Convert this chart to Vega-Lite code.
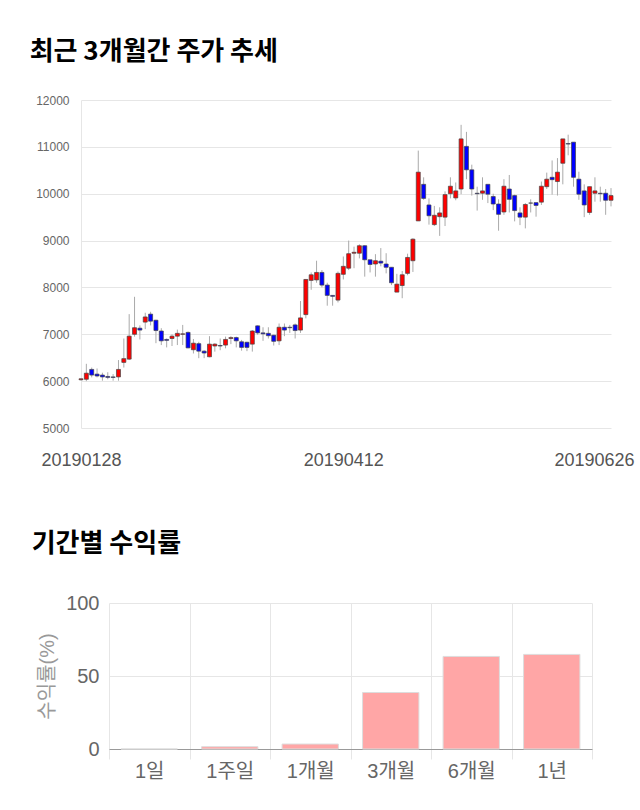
{
  "$schema": "https://vega.github.io/schema/vega-lite/v6.json",
  "background": "white",
  "padding": {"left": 29, "top": 39, "right": 0, "bottom": 0},
  "config": {"view": {"stroke": null}, "font": "Liberation Sans, Noto Sans CJK KR"},
  "spacing": 62,
  "vconcat": [
    {
      "title": {"text": "최근 3개월간 주가 추세", "anchor": "start", "frame": "bounds", "dx": -6, "offset": 29, "fontSize": 26, "font": "Noto Sans CJK KR", "fontWeight": "bold", "color": "#000000"},
      "width": 530,
      "height": 328,
      "data": {"values": [
        {"d":"20190128","o":6030,"h":6060,"l":6010,"c":6050},
        {"d":"20190129","o":6040,"h":6370,"l":6000,"c":6170},
        {"d":"20190130","o":6250,"h":6290,"l":6080,"c":6130},
        {"d":"20190131","o":6150,"h":6270,"l":6080,"c":6110},
        {"d":"20190207","o":6130,"h":6180,"l":6010,"c":6090},
        {"d":"20190208","o":6100,"h":6190,"l":6040,"c":6080},
        {"d":"20190211","o":6090,"h":6150,"l":6010,"c":6080},
        {"d":"20190212","o":6090,"h":6450,"l":6010,"c":6250},
        {"d":"20190213","o":6400,"h":6910,"l":6290,"c":6480},
        {"d":"20190214","o":6470,"h":7430,"l":6450,"c":6960},
        {"d":"20190215","o":7000,"h":7800,"l":6950,"c":7140},
        {"d":"20190218","o":7130,"h":7190,"l":6890,"c":7090},
        {"d":"20190219","o":7260,"h":7460,"l":7110,"c":7370},
        {"d":"20190220","o":7430,"h":7480,"l":7190,"c":7280},
        {"d":"20190221","o":7300,"h":7310,"l":6810,"c":7080},
        {"d":"20190222","o":7070,"h":7130,"l":6770,"c":6860},
        {"d":"20190225","o":6890,"h":6910,"l":6720,"c":6870},
        {"d":"20190226","o":6910,"h":7000,"l":6750,"c":6960},
        {"d":"20190227","o":6960,"h":7100,"l":6770,"c":7020},
        {"d":"20190228","o":7000,"h":7200,"l":6770,"c":7010},
        {"d":"20190304","o":7040,"h":7060,"l":6700,"c":6710},
        {"d":"20190305","o":6670,"h":6900,"l":6590,"c":6810},
        {"d":"20190306","o":6800,"h":6840,"l":6490,"c":6640},
        {"d":"20190307","o":6640,"h":6660,"l":6490,"c":6600},
        {"d":"20190308","o":6520,"h":6960,"l":6510,"c":6790},
        {"d":"20190311","o":6750,"h":6810,"l":6630,"c":6790},
        {"d":"20190312","o":6760,"h":6910,"l":6660,"c":6750},
        {"d":"20190313","o":6770,"h":6950,"l":6700,"c":6890},
        {"d":"20190314","o":6910,"h":6960,"l":6790,"c":6930},
        {"d":"20190315","o":6930,"h":6950,"l":6720,"c":6860},
        {"d":"20190318","o":6840,"h":6880,"l":6650,"c":6720},
        {"d":"20190319","o":6830,"h":6840,"l":6640,"c":6720},
        {"d":"20190320","o":6790,"h":7090,"l":6630,"c":7070},
        {"d":"20190321","o":7180,"h":7190,"l":6990,"c":7030},
        {"d":"20190322","o":7030,"h":7150,"l":6860,"c":7010},
        {"d":"20190325","o":7020,"h":7150,"l":6910,"c":6970},
        {"d":"20190326","o":6980,"h":6990,"l":6760,"c":6850},
        {"d":"20190327","o":6860,"h":7230,"l":6770,"c":7150},
        {"d":"20190328","o":7150,"h":7230,"l":6960,"c":7090},
        {"d":"20190329","o":7150,"h":7200,"l":7030,"c":7140},
        {"d":"20190401","o":7200,"h":7230,"l":6910,"c":7080},
        {"d":"20190402","o":7090,"h":7710,"l":7030,"c":7350},
        {"d":"20190403","o":7420,"h":8180,"l":7340,"c":8170},
        {"d":"20190404","o":8150,"h":8320,"l":7950,"c":8270},
        {"d":"20190405","o":8160,"h":8570,"l":8100,"c":8320},
        {"d":"20190408","o":8320,"h":8370,"l":8000,"c":8050},
        {"d":"20190409","o":8050,"h":8100,"l":7610,"c":7830},
        {"d":"20190410","o":7830,"h":7830,"l":7610,"c":7810},
        {"d":"20190411","o":7730,"h":8340,"l":7680,"c":8300},
        {"d":"20190412","o":8280,"h":8660,"l":8170,"c":8450},
        {"d":"20190415","o":8410,"h":9000,"l":8370,"c":8720},
        {"d":"20190416","o":8730,"h":8870,"l":8410,"c":8750},
        {"d":"20190417","o":8730,"h":8920,"l":8620,"c":8890},
        {"d":"20190418","o":8890,"h":8900,"l":8230,"c":8590},
        {"d":"20190419","o":8590,"h":8590,"l":8320,"c":8490},
        {"d":"20190422","o":8500,"h":8710,"l":8230,"c":8570},
        {"d":"20190423","o":8560,"h":8840,"l":8450,"c":8520},
        {"d":"20190424","o":8500,"h":8730,"l":8300,"c":8430},
        {"d":"20190425","o":8430,"h":8430,"l":8050,"c":8100},
        {"d":"20190426","o":7900,"h":8290,"l":7900,"c":8070},
        {"d":"20190429","o":8040,"h":8350,"l":7770,"c":8270},
        {"d":"20190430","o":8300,"h":8720,"l":8260,"c":8640},
        {"d":"20190502","o":8570,"h":9050,"l":8330,"c":9030},
        {"d":"20190503","o":9420,"h":10920,"l":9420,"c":10460},
        {"d":"20190507","o":10200,"h":10350,"l":9870,"c":9900},
        {"d":"20190508","o":9760,"h":9900,"l":9340,"c":9530},
        {"d":"20190509","o":9340,"h":9740,"l":9310,"c":9540},
        {"d":"20190510","o":9510,"h":9710,"l":9100,"c":9590},
        {"d":"20190513","o":9500,"h":10050,"l":9310,"c":9980},
        {"d":"20190514","o":10000,"h":10350,"l":9900,"c":10160},
        {"d":"20190515","o":9910,"h":10240,"l":9860,"c":10060},
        {"d":"20190516","o":10100,"h":11470,"l":9990,"c":11170},
        {"d":"20190517","o":11010,"h":11320,"l":10310,"c":10510},
        {"d":"20190520","o":10510,"h":10620,"l":9960,"c":10100},
        {"d":"20190521","o":10010,"h":10150,"l":9640,"c":10000},
        {"d":"20190522","o":10010,"h":10350,"l":9870,"c":10060},
        {"d":"20190523","o":10200,"h":10200,"l":9800,"c":9990},
        {"d":"20190524","o":9940,"h":10000,"l":9650,"c":9780},
        {"d":"20190527","o":9780,"h":9880,"l":9210,"c":9560},
        {"d":"20190528","o":9610,"h":10310,"l":9550,"c":10160},
        {"d":"20190529","o":10100,"h":10400,"l":9600,"c":9880},
        {"d":"20190530","o":9960,"h":9980,"l":9410,"c":9640},
        {"d":"20190531","o":9590,"h":9710,"l":9330,"c":9500},
        {"d":"20190603","o":9500,"h":9800,"l":9260,"c":9770},
        {"d":"20190604","o":9800,"h":9880,"l":9600,"c":9800},
        {"d":"20190605","o":9810,"h":9810,"l":9510,"c":9750},
        {"d":"20190607","o":9820,"h":10260,"l":9760,"c":10160},
        {"d":"20190610","o":10150,"h":10450,"l":10100,"c":10310},
        {"d":"20190611","o":10350,"h":10710,"l":9980,"c":10300},
        {"d":"20190612","o":10260,"h":10760,"l":9960,"c":10460},
        {"d":"20190613","o":10650,"h":11170,"l":10200,"c":11170},
        {"d":"20190614","o":11070,"h":11260,"l":10820,"c":11060},
        {"d":"20190617","o":11100,"h":11100,"l":10150,"c":10350},
        {"d":"20190618","o":10310,"h":10470,"l":9870,"c":9990},
        {"d":"20190619","o":10060,"h":10200,"l":9500,"c":9760},
        {"d":"20190620","o":9600,"h":10150,"l":9550,"c":10150},
        {"d":"20190621","o":10010,"h":10350,"l":9830,"c":10060},
        {"d":"20190624","o":10010,"h":10150,"l":9830,"c":10000},
        {"d":"20190625","o":10010,"h":10100,"l":9550,"c":9860},
        {"d":"20190626","o":9860,"h":10120,"l":9730,"c":9960}
      ]},
      "encoding": {
        "x": {
          "field": "d", "type": "ordinal",
          "scale": {"type": "point", "padding": 0},
          "axis": {
            "title": null, "values": ["20190128", "20190412", "20190626"],
            "labelAngle": 0, "ticks": false, "domain": false, "grid": false,
            "labelPadding": 23, "labelFontSize": 18, "labelColor": "#555555",
            "labelFont": "Liberation Sans", "labelBound": false, "labelOverlap": false,
            "labelOffset": {"condition": {"test": "datum.value == '20190626'", "value": -17}, "value": 0}
          }
        }
      },
      "layer": [
        {
          "mark": {"type": "rule", "color": "#aaaaaa", "strokeWidth": 1},
          "encoding": {
            "y": {
              "field": "l", "type": "quantitative",
              "scale": {"domain": [5000, 12000], "nice": false, "zero": false},
              "axis": {
                "title": null, "values": [5000, 6000, 7000, 8000, 9000, 10000, 11000, 12000],
                "format": "d", "ticks": false, "labelPadding": 12, "labelFontSize": 12,
                "labelColor": "#666666", "gridColor": "#e6e6e6", "domainColor": "#e6e6e6"
              }
            },
            "y2": {"field": "h"}
          }
        },
        {
          "mark": {"type": "bar", "width": 4, "stroke": "#444444", "strokeWidth": 0.7},
          "encoding": {
            "y": {"field": "o", "type": "quantitative"},
            "y2": {"field": "c"},
            "fill": {"condition": {"test": "datum.c >= datum.o", "value": "#ff0000"}, "value": "#0000ff"}
          }
        }
      ]
    },
    {
      "title": {"text": "기간별 수익률", "anchor": "start", "frame": "bounds", "dx": -6, "offset": 36, "fontSize": 26, "font": "Noto Sans CJK KR", "fontWeight": "bold", "color": "#000000"},
      "width": 513,
      "height": 146,
      "data": {"values": [
        {"p": "1일", "v": 0},
        {"p": "1주일", "v": 1.6},
        {"p": "1개월", "v": 3.4},
        {"p": "3개월", "v": 38.7},
        {"p": "6개월", "v": 63.4},
        {"p": "1년", "v": 64.8}
      ]},
      "mark": {"type": "bar", "fill": "#ffa6a6", "stroke": "#dddddd", "strokeWidth": 1, "width": {"band": 0.7}},
      "encoding": {
        "x": {
          "field": "p", "type": "nominal", "sort": null,
          "scale": {"paddingInner": 0, "paddingOuter": 0, "range": [28, 511]},
          "axis": {
            "title": null, "labelAngle": 0, "tickBand": "extent", "grid": true,
            "gridColor": "#e6e6e6", "tickColor": "#e6e6e6", "tickSize": 10,
            "domainColor": "#999999", "labelFontSize": 20, "labelColor": "#666666", "labelPadding": 2
          }
        },
        "y": {
          "field": "v", "type": "quantitative",
          "scale": {"domain": [0, 100], "nice": false},
          "axis": {
            "values": [0, 50, 100], "title": "수익률(%)", "titleFontSize": 20,
            "titleColor": "#999999", "titleFontWeight": "normal", "titlePadding": 8,
            "gridColor": "#e6e6e6", "ticks": false, "domain": false, "offset": -28,
            "labelFontSize": 20, "labelColor": "#666666", "labelPadding": 10
          }
        }
      }
    }
  ]
}
